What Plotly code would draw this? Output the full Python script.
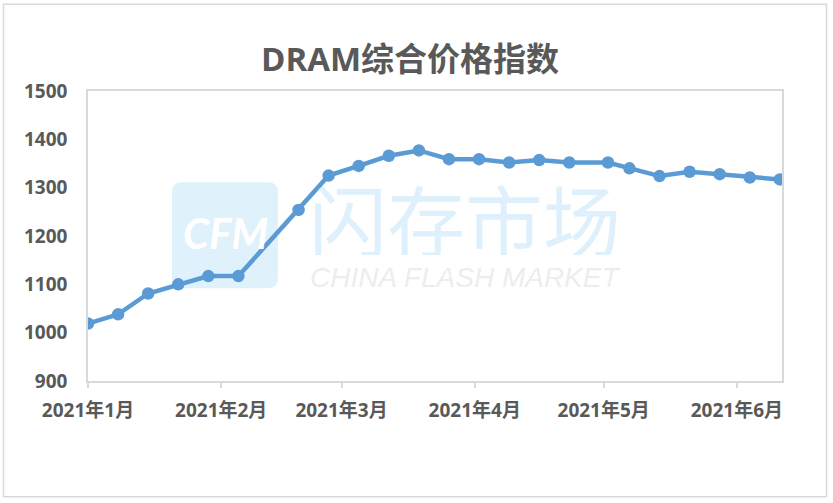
import plotly.graph_objects as go

dates = ["2021-01-01", "2021-01-08", "2021-01-15", "2021-01-22", "2021-01-29", "2021-02-05",
         "2021-02-19", "2021-02-26", "2021-03-05", "2021-03-12", "2021-03-19", "2021-03-26",
         "2021-04-02", "2021-04-09", "2021-04-16", "2021-04-23", "2021-05-02", "2021-05-07",
         "2021-05-14", "2021-05-21", "2021-05-28", "2021-06-04", "2021-06-11"]
values = [1019, 1038, 1081, 1100, 1117, 1117,
          1254, 1325, 1345, 1366, 1377, 1359,
          1359, 1352, 1357, 1352, 1352, 1340,
          1324, 1333, 1328, 1321, 1317]
tick_dates = ["2021-01-01", "2021-02-01", "2021-03-01", "2021-04-01", "2021-05-01", "2021-06-01"]
tick_labels = ["2021年1月", "2021年2月", "2021年3月", "2021年4月", "2021年5月", "2021年6月"]
y_ticks = [900, 1000, 1100, 1200, 1300, 1400, 1500]

TEXT = "#595959"
AXIS = "#D9D9D9"
BLUE = "#5B9BD5"
FONT = "Open Sans, Noto Sans CJK SC, sans-serif"

L, R, T, B = 88, 782, 90.5, 381
PW, PH = R - L, B - T


def px(x):
    return (x - L) / PW


def py(y):
    return (B - y) / PH


fig = go.Figure()
fig.add_trace(go.Scatter(
    x=dates, y=values, mode="lines+markers",
    line=dict(color=BLUE, width=4.5),
    marker=dict(color=BLUE, size=12.5),
    showlegend=False, hoverinfo="x+y",
))

W, H = 833, 503
bx0, bx1, by0, by1, rr = 172, 278, 182, 288, 10
fig.update_layout(
    width=W, height=H,
    margin=dict(l=L, r=W - R, t=T, b=H - B),
    paper_bgcolor="white", plot_bgcolor="white",
    font=dict(family=FONT, color=TEXT),
    xaxis=dict(
        type="date", range=["2021-01-01", "2021-06-11 12:00"],
        tickvals=tick_dates, ticktext=tick_labels,
        showline=True, linecolor=AXIS, linewidth=1.5, mirror=True,
        ticks="outside", tickcolor=AXIS, ticklen=5, tickwidth=1.5,
        showgrid=False, zeroline=False,
        tickfont=dict(size=19, color=TEXT, family=FONT, weight="bold"),
        ticklabelstandoff=6,
    ),
    yaxis=dict(
        range=[900, 1500], tickvals=y_ticks,
        showline=True, linecolor=AXIS, linewidth=1.5, mirror=True,
        ticks="", showgrid=False, zeroline=False,
        tickfont=dict(size=19, color=TEXT, family=FONT, weight="bold"),
        ticklabelstandoff=15,
    ),
    shapes=[
        dict(type="rect", xref="paper", yref="paper", x0=px(3.5), x1=px(826.5),
             y0=py(497), y1=py(3.5),
             line=dict(color=AXIS, width=1.5), fillcolor="rgba(0,0,0,0)", layer="below"),
        dict(type="path", xref="paper", yref="paper", layer="below",
             path=" ".join([
                 f"M {px(bx0+rr)} {py(by0)}",
                 f"L {px(bx1-rr)} {py(by0)}",
                 f"Q {px(bx1)} {py(by0)} {px(bx1)} {py(by0+rr)}",
                 f"L {px(bx1)} {py(by1-rr)}",
                 f"Q {px(bx1)} {py(by1)} {px(bx1-rr)} {py(by1)}",
                 f"L {px(bx0+rr)} {py(by1)}",
                 f"Q {px(bx0)} {py(by1)} {px(bx0)} {py(by1-rr)}",
                 f"L {px(bx0)} {py(by0+rr)}",
                 f"Q {px(bx0)} {py(by0)} {px(bx0+rr)} {py(by0)} Z",
             ]),
             fillcolor="#DFF2FC", line=dict(width=0)),
    ],
    annotations=[
        dict(text="DRAM综合价格指数", xref="paper", yref="paper",
             x=px(409.5), y=py(58), xanchor="center", yanchor="middle",
             showarrow=False, font=dict(size=33, color=TEXT, family=FONT, weight="bold")),
        dict(text="<i>CFM</i>", xref="paper", yref="paper",
             x=px(225), y=py(233), xanchor="center", yanchor="middle",
             showarrow=False, font=dict(size=42, color="white", family="Lato, sans-serif",
                                        weight="bold")),
        dict(text="闪存市场", xref="paper", yref="paper",
             x=px(465), y=py(218), xanchor="center", yanchor="middle", height=74,
             showarrow=False, font=dict(size=78, color="rgba(200,230,248,0.6)",
                                        family="Noto Sans CJK SC", weight="normal")),
        dict(text="<i>CHINA FLASH MARKET</i>", xref="paper", yref="paper",
             x=px(465), y=py(277), xanchor="center", yanchor="middle", height=22,
             showarrow=False, font=dict(size=28, color="rgba(225,225,225,0.6)",
                                        family="Liberation Sans, sans-serif")),
    ],
)

fig.write_html("out.html", post_script="document.body.style.margin='0';",
               config={"displayModeBar": False})
